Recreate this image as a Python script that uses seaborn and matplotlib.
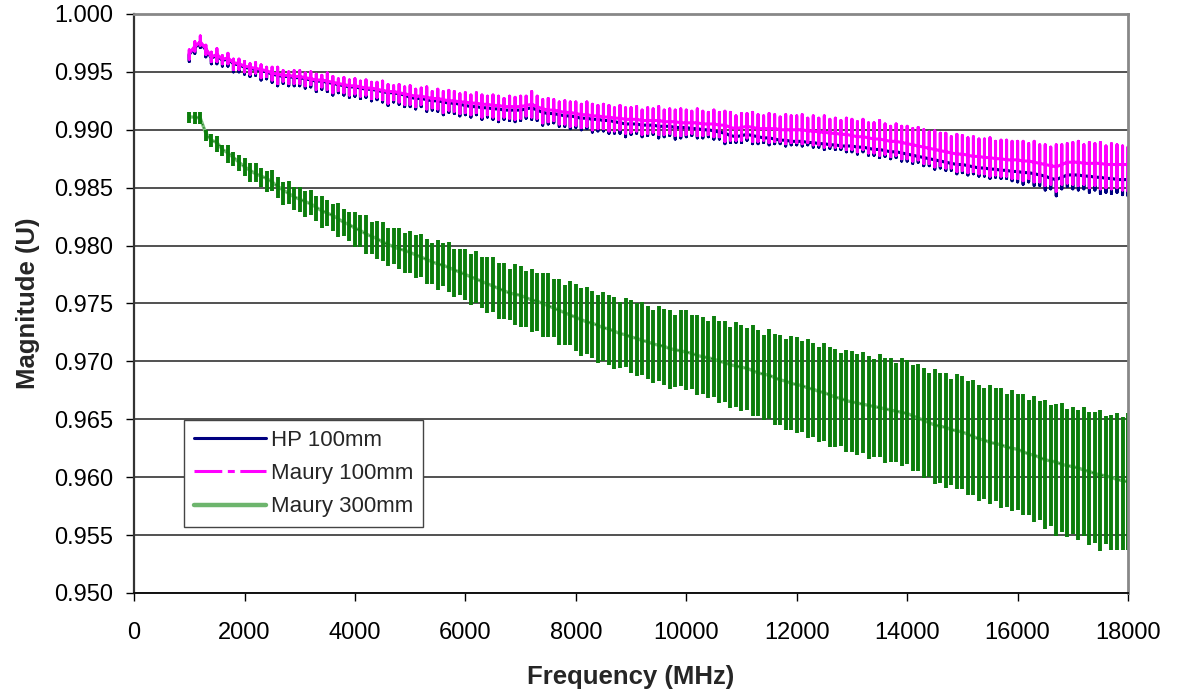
import matplotlib
matplotlib.use("Agg")
import matplotlib.pyplot as plt
from matplotlib.lines import Line2D
from matplotlib.ticker import FormatStrFormatter
import pandas as pd
import seaborn as sns

# sweep points (MHz), one spike per point
freq_mhz = [
    1000, 1100, 1200, 1300, 1400, 1500, 1600, 1700, 1800, 1900,
    2000, 2100, 2200, 2300, 2400, 2500, 2600, 2700, 2800, 2900,
    3000, 3100, 3200, 3300, 3400, 3500, 3600, 3700, 3800, 3900,
    4000, 4100, 4200, 4300, 4400, 4500, 4600, 4700, 4800, 4900,
    5000, 5100, 5200, 5300, 5400, 5500, 5600, 5700, 5800, 5900,
    6000, 6100, 6200, 6300, 6400, 6500, 6600, 6700, 6800, 6900,
    7000, 7100, 7200, 7300, 7400, 7500, 7600, 7700, 7800, 7900,
    8000, 8100, 8200, 8300, 8400, 8500, 8600, 8700, 8800, 8900,
    9000, 9100, 9200, 9300, 9400, 9500, 9600, 9700, 9800, 9900,
    10000, 10100, 10200, 10300, 10400, 10500, 10600, 10700, 10800, 10900,
    11000, 11100, 11200, 11300, 11400, 11500, 11600, 11700, 11800, 11900,
    12000, 12100, 12200, 12300, 12400, 12500, 12600, 12700, 12800, 12900,
    13000, 13100, 13200, 13300, 13400, 13500, 13600, 13700, 13800, 13900,
    14000, 14100, 14200, 14300, 14400, 14500, 14600, 14700, 14800, 14900,
    15000, 15100, 15200, 15300, 15400, 15500, 15600, 15700, 15800, 15900,
    16000, 16100, 16200, 16300, 16400, 16500, 16600, 16700, 16800, 16900,
    17000, 17100, 17200, 17300, 17400, 17500, 17600, 17700, 17800, 17900,
    18000,
]

# HP 100mm: base line (U) and spike depth below it (units of 0.0001 U)
hp_center = [
    0.9965, 0.9971, 0.9975, 0.9969, 0.9962, 0.9964, 0.9960, 0.9961, 0.9957, 0.9956,
    0.9954, 0.9953, 0.9952, 0.9951, 0.9950, 0.9948, 0.9947, 0.9946, 0.9946, 0.9945,
    0.9945, 0.9944, 0.9943, 0.9942, 0.9942, 0.9941, 0.9940, 0.9939, 0.9938, 0.9937,
    0.9937, 0.9936, 0.9935, 0.9935, 0.9934, 0.9933, 0.9932, 0.9932, 0.9931, 0.9930,
    0.9928, 0.9927, 0.9927, 0.9926, 0.9925, 0.9925, 0.9924, 0.9923, 0.9923, 0.9922,
    0.9921, 0.9920, 0.9920, 0.9919, 0.9919, 0.9918, 0.9918, 0.9917, 0.9917, 0.9917,
    0.9917, 0.9918, 0.9919, 0.9917, 0.9915, 0.9914, 0.9914, 0.9913, 0.9912, 0.9912,
    0.9911, 0.9910, 0.9910, 0.9909, 0.9909, 0.9908, 0.9908, 0.9907, 0.9906, 0.9905,
    0.9905, 0.9905, 0.9904, 0.9904, 0.9904, 0.9903, 0.9903, 0.9903, 0.9902, 0.9902,
    0.9902, 0.9901, 0.9901, 0.9900, 0.9900, 0.9899, 0.9898, 0.9897, 0.9895, 0.9894,
    0.9895, 0.9896, 0.9895, 0.9894, 0.9893, 0.9893, 0.9892, 0.9891, 0.9891, 0.9890,
    0.9890, 0.9890, 0.9889, 0.9889, 0.9888, 0.9888, 0.9887, 0.9887, 0.9886, 0.9886,
    0.9886, 0.9885, 0.9885, 0.9884, 0.9883, 0.9883, 0.9882, 0.9881, 0.9881, 0.9880,
    0.9879, 0.9878, 0.9877, 0.9876, 0.9875, 0.9874, 0.9873, 0.9872, 0.9871, 0.9870,
    0.9870, 0.9869, 0.9868, 0.9867, 0.9867, 0.9866, 0.9866, 0.9865, 0.9865, 0.9864,
    0.9864, 0.9863, 0.9863, 0.9862, 0.9861, 0.9860, 0.9858, 0.9857, 0.9859, 0.9861,
    0.9861, 0.9861, 0.9860, 0.9860, 0.9859, 0.9859, 0.9858, 0.9858, 0.9857, 0.9857,
    0.9857,
]
hp_down = [
    6, 5, 4, 6, 5, 7, 5, 6, 7, 6,
    6, 7, 5, 8, 6, 7, 9, 6, 8, 7,
    7, 8, 6, 9, 7, 8, 10, 7, 8, 9,
    8, 9, 7, 10, 8, 9, 11, 8, 9, 10,
    8, 9, 7, 10, 8, 9, 11, 8, 9, 10,
    8, 9, 7, 10, 8, 9, 11, 8, 9, 10,
    9, 8, 10, 9, 11, 9, 8, 10, 9, 11,
    9, 10, 9, 11, 10, 9, 11, 10, 9, 11,
    9, 8, 10, 9, 8, 10, 9, 8, 10, 9,
    8, 6, 8, 7, 6, 7, 6, 9, 6, 5,
    6, 5, 7, 6, 4, 6, 4, 3, 5, 3,
    3, 4, 2, 4, 3, 5, 3, 4, 3, 5,
    5, 6, 4, 6, 5, 7, 5, 6, 5, 7,
    6, 7, 5, 7, 6, 8, 6, 7, 6, 8,
    7, 8, 6, 7, 7, 8, 7, 7, 7, 8,
    9, 10, 8, 10, 9, 12, 9, 14, 10, 10,
    12, 13, 11, 14, 11, 14, 12, 13, 11, 13,
    14,
]

# Maury 100mm: base line (U), spike height above and depth below (0.0001 U)
maury100_center = [
    0.9966, 0.9972, 0.9976, 0.9970, 0.9963, 0.9965, 0.9961, 0.9962, 0.9958, 0.9957,
    0.9955, 0.9954, 0.9953, 0.9952, 0.9951, 0.9949, 0.9948, 0.9947, 0.9947, 0.9946,
    0.9946, 0.9945, 0.9944, 0.9943, 0.9943, 0.9942, 0.9941, 0.9940, 0.9939, 0.9938,
    0.9938, 0.9937, 0.9936, 0.9936, 0.9935, 0.9934, 0.9933, 0.9933, 0.9932, 0.9931,
    0.9930, 0.9929, 0.9929, 0.9928, 0.9927, 0.9927, 0.9926, 0.9925, 0.9925, 0.9924,
    0.9924, 0.9923, 0.9923, 0.9922, 0.9922, 0.9921, 0.9921, 0.9920, 0.9920, 0.9920,
    0.9920, 0.9921, 0.9922, 0.9920, 0.9918, 0.9917, 0.9917, 0.9916, 0.9915, 0.9915,
    0.9914, 0.9913, 0.9913, 0.9912, 0.9912, 0.9911, 0.9911, 0.9910, 0.9910, 0.9909,
    0.9909, 0.9909, 0.9908, 0.9908, 0.9908, 0.9908, 0.9907, 0.9907, 0.9907, 0.9906,
    0.9906, 0.9906, 0.9906, 0.9905, 0.9905, 0.9905, 0.9904, 0.9904, 0.9902, 0.9901,
    0.9902, 0.9903, 0.9902, 0.9901, 0.9901, 0.9901, 0.9901, 0.9900, 0.9900, 0.9900,
    0.9900, 0.9900, 0.9899, 0.9899, 0.9898, 0.9898, 0.9897, 0.9897, 0.9896, 0.9896,
    0.9895, 0.9894, 0.9894, 0.9893, 0.9892, 0.9892, 0.9891, 0.9890, 0.9890, 0.9889,
    0.9888, 0.9887, 0.9886, 0.9885, 0.9884, 0.9883, 0.9882, 0.9881, 0.9880, 0.9879,
    0.9879, 0.9878, 0.9877, 0.9877, 0.9876, 0.9876, 0.9875, 0.9875, 0.9874, 0.9874,
    0.9874, 0.9873, 0.9873, 0.9872, 0.9871, 0.9870, 0.9869, 0.9868, 0.9870, 0.9872,
    0.9872, 0.9872, 0.9871, 0.9871, 0.9871, 0.9871, 0.9870, 0.9870, 0.9870, 0.9870,
    0.9870,
]
maury100_up = [
    3, 4, 5, 3, 4, 5, 3, 4, 3, 4,
    4, 3, 5, 4, 3, 5, 6, 4, 3, 5,
    5, 4, 6, 5, 4, 7, 5, 4, 6, 5,
    6, 5, 7, 5, 6, 8, 6, 5, 7, 6,
    8, 6, 7, 9, 6, 8, 7, 9, 8, 7,
    8, 7, 9, 8, 7, 9, 8, 7, 9, 8,
    9, 8, 11, 9, 8, 10, 9, 8, 10, 9,
    10, 9, 11, 10, 9, 11, 10, 9, 11, 10,
    10, 11, 9, 11, 10, 12, 10, 11, 10, 12,
    11, 10, 12, 11, 10, 12, 11, 12, 13, 11,
    12, 11, 13, 12, 11, 13, 12, 11, 13, 12,
    12, 13, 11, 13, 12, 14, 12, 13, 12, 14,
    14, 13, 15, 13, 14, 16, 14, 13, 15, 14,
    15, 14, 16, 15, 14, 16, 15, 16, 14, 17,
    16, 15, 17, 15, 16, 17, 15, 16, 17, 16,
    16, 17, 15, 18, 16, 17, 16, 19, 17, 16,
    17, 18, 16, 18, 17, 18, 16, 18, 17, 16,
    15,
]
maury100_down = [
    5, 4, 3, 5, 4, 6, 4, 5, 6, 5,
    5, 6, 4, 7, 5, 6, 8, 5, 7, 6,
    6, 7, 5, 8, 6, 7, 9, 6, 7, 8,
    7, 8, 6, 9, 7, 8, 10, 7, 8, 9,
    8, 9, 7, 10, 8, 9, 11, 8, 9, 10,
    9, 10, 8, 11, 9, 10, 12, 9, 10, 11,
    10, 9, 11, 10, 12, 10, 9, 11, 10, 12,
    10, 11, 10, 12, 11, 10, 12, 11, 10, 12,
    11, 10, 12, 11, 10, 12, 11, 10, 12, 11,
    10, 9, 11, 10, 9, 11, 10, 14, 11, 10,
    11, 10, 12, 11, 10, 12, 11, 10, 12, 11,
    11, 12, 10, 12, 11, 13, 11, 12, 11, 13,
    12, 13, 11, 13, 12, 14, 12, 13, 12, 14,
    13, 14, 12, 14, 13, 15, 13, 14, 13, 15,
    14, 15, 13, 15, 14, 16, 14, 15, 14, 16,
    16, 17, 15, 17, 16, 18, 16, 21, 17, 18,
    19, 20, 18, 21, 19, 22, 20, 21, 20, 22,
    23,
]

# Maury 300mm: base line (U), spike height above and depth below (0.0001 U)
maury300_center = [
    0.9911, 0.9911, 0.9910, 0.9897, 0.9891, 0.9889, 0.9883, 0.9880, 0.9876, 0.9872,
    0.9868, 0.9865, 0.9862, 0.9860, 0.9858, 0.9855, 0.9851, 0.9848, 0.9845, 0.9842,
    0.9840, 0.9838, 0.9836, 0.9833, 0.9830, 0.9828, 0.9826, 0.9823, 0.9820, 0.9818,
    0.9815, 0.9813, 0.9810, 0.9808, 0.9806, 0.9803, 0.9801, 0.9799, 0.9797, 0.9796,
    0.9794, 0.9792, 0.9790, 0.9788, 0.9786, 0.9784, 0.9783, 0.9781, 0.9779, 0.9777,
    0.9775, 0.9773, 0.9771, 0.9769, 0.9767, 0.9765, 0.9763, 0.9761, 0.9759, 0.9758,
    0.9757, 0.9755, 0.9753, 0.9752, 0.9750, 0.9748, 0.9746, 0.9744, 0.9742, 0.9740,
    0.9738, 0.9736, 0.9734, 0.9733, 0.9731, 0.9729, 0.9728, 0.9726, 0.9724, 0.9723,
    0.9721, 0.9720, 0.9718, 0.9717, 0.9715, 0.9714, 0.9713, 0.9711, 0.9710, 0.9709,
    0.9708, 0.9707, 0.9705, 0.9704, 0.9703, 0.9702, 0.9700, 0.9699, 0.9697, 0.9696,
    0.9695, 0.9694, 0.9692, 0.9690, 0.9689, 0.9688, 0.9686, 0.9684, 0.9683, 0.9681,
    0.9680, 0.9679, 0.9677, 0.9676, 0.9674, 0.9673, 0.9671, 0.9669, 0.9668, 0.9666,
    0.9665, 0.9664, 0.9663, 0.9662, 0.9661, 0.9660, 0.9659, 0.9658, 0.9657, 0.9656,
    0.9655, 0.9653, 0.9651, 0.9649, 0.9647, 0.9645, 0.9644, 0.9643, 0.9641, 0.9640,
    0.9639, 0.9637, 0.9635, 0.9633, 0.9632, 0.9630, 0.9629, 0.9628, 0.9626, 0.9625,
    0.9624, 0.9622, 0.9620, 0.9619, 0.9617, 0.9615, 0.9614, 0.9613, 0.9611, 0.9610,
    0.9609, 0.9608, 0.9606, 0.9605, 0.9603, 0.9602, 0.9601, 0.9600, 0.9598, 0.9597,
    0.9596,
]
maury300_up = [
    4, 4, 5, 3, 5, 6, 4, 7, 5, 6,
    8, 6, 9, 7, 6, 10, 8, 7, 11, 9,
    11, 9, 12, 10, 13, 11, 10, 14, 12, 11,
    14, 13, 16, 12, 15, 17, 14, 16, 18, 15,
    19, 17, 20, 18, 16, 21, 19, 22, 18, 20,
    22, 20, 24, 21, 23, 25, 22, 24, 21, 26,
    25, 23, 27, 24, 26, 28, 25, 27, 24, 29,
    29, 27, 30, 28, 26, 31, 29, 30, 27, 32,
    32, 30, 33, 31, 29, 34, 32, 33, 30, 35,
    36, 33, 35, 34, 32, 37, 35, 36, 33, 38,
    36, 35, 39, 37, 34, 40, 38, 39, 36, 41,
    41, 39, 42, 40, 38, 43, 41, 42, 39, 44,
    44, 42, 45, 43, 41, 46, 44, 45, 42, 47,
    46, 44, 47, 45, 43, 48, 46, 47, 44, 49,
    48, 46, 49, 47, 45, 50, 48, 49, 46, 50,
    48, 50, 47, 51, 49, 52, 48, 50, 53, 49,
    52, 50, 55, 51, 53, 56, 52, 54, 57, 55,
    59,
]
maury300_down = [
    5, 6, 5, 7, 6, 8, 6, 9, 7, 8,
    8, 10, 7, 9, 12, 8, 10, 13, 9, 11,
    11, 13, 10, 12, 15, 11, 13, 16, 12, 14,
    16, 14, 17, 15, 18, 16, 19, 15, 17, 20,
    18, 20, 17, 21, 19, 22, 18, 21, 23, 20,
    22, 24, 21, 23, 25, 22, 26, 24, 23, 27,
    27, 25, 28, 26, 29, 27, 25, 30, 28, 26,
    29, 31, 28, 30, 32, 29, 31, 33, 30, 28,
    31, 33, 30, 32, 34, 31, 33, 35, 32, 30,
    33, 31, 34, 32, 35, 33, 36, 34, 37, 35,
    38, 36, 39, 37, 40, 38, 41, 39, 42, 40,
    42, 40, 43, 41, 44, 42, 45, 43, 41, 44,
    43, 45, 42, 46, 44, 43, 47, 45, 44, 46,
    44, 48, 46, 50, 47, 51, 49, 52, 48, 50,
    49, 52, 50, 54, 51, 53, 50, 55, 52, 54,
    52, 55, 53, 58, 54, 60, 56, 64, 58, 62,
    58, 62, 57, 64, 60, 66, 59, 63, 61, 60,
    59,
]

STEP = 1e-4  # spike lists are in 0.0001 U


def spike_frame(freqs, centers, ups, downs):
    # each sweep point becomes base -> top -> bottom -> base, like the trace
    rows = []
    for i, (f, c) in enumerate(zip(freqs, centers)):
        u = ups[i] if ups is not None else 0
        d = downs[i]
        for y in (c, c + u * STEP, c - d * STEP, c):
            rows.append((f, y))
    return pd.DataFrame(rows, columns=['Frequency', 'Magnitude'])


sns.set_style('white')
plt.rcParams['font.family'] = ['Liberation Sans', 'DejaVu Sans']
plt.rcParams['lines.scale_dashes'] = False

fig = plt.figure(figsize=(11.78, 6.95), dpi=100)
ax = fig.add_axes([0.1138, 0.1468, 0.8438, 0.8331])

hp = spike_frame(freq_mhz, hp_center, None, hp_down)
m100 = spike_frame(freq_mhz, maury100_center, maury100_up, maury100_down)
m300 = pd.DataFrame({'Frequency': freq_mhz, 'Magnitude': maury300_center})

sns.lineplot(data=hp, x='Frequency', y='Magnitude', sort=False, estimator=None,
             color='#000080', lw=2.2, ax=ax)
sns.lineplot(data=m100, x='Frequency', y='Magnitude', sort=False, estimator=None,
             color='#FF00FF', lw=2.2, ax=ax)

# Maury 300mm: textured base line plus solid spikes
sns.lineplot(data=m300, x='Frequency', y='Magnitude', sort=False, estimator=None,
             color='#7CC07C', lw=2.4, ax=ax)
sns.lineplot(data=m300, x='Frequency', y='Magnitude', sort=False, estimator=None,
             color='#1E7A1E', lw=1.0, dashes=(1, 1.5), ax=ax)
tops = [c + u * STEP for c, u in zip(maury300_center, maury300_up)]
bottoms = [c - d * STEP for c, d in zip(maury300_center, maury300_down)]
ax.vlines(freq_mhz, bottoms, tops, color='#0B7D0B', lw=2.8)

ax.set_xlim(0, 18000)
ax.set_ylim(0.950, 1.000)
ax.set_xticks(range(0, 18001, 2000))
ax.set_yticks([0.950, 0.955, 0.960, 0.965, 0.970, 0.975, 0.980, 0.985, 0.990, 0.995, 1.000])
ax.yaxis.set_major_formatter(FormatStrFormatter('%.3f'))
ax.yaxis.grid(True, color='#222222', lw=1.1)
ax.xaxis.grid(False)
ax.set_axisbelow(True)

ax.tick_params(axis='both', direction='out', length=6, width=1, color='black',
               labelsize=17, labelcolor='black')
ax.tick_params(axis='x', pad=15)
ax.tick_params(axis='y', pad=9)
ax.tick_params(left=True, bottom=True)

for side in ('top', 'right'):
    ax.spines[side].set_color('#888888')
    ax.spines[side].set_linewidth(2)
ax.spines['left'].set_color('#333333')
ax.spines['left'].set_linewidth(1.6)
ax.spines['bottom'].set_color('#111111')
ax.spines['bottom'].set_linewidth(1.4)

ax.set_xlabel('Frequency (MHz)', fontsize=18.5, fontweight='bold', labelpad=15)
ax.set_ylabel('Magnitude (U)', fontsize=18.5, fontweight='bold', labelpad=10)

handles = [
    Line2D([], [], color='#000080', lw=2.2),
    Line2D([], [], color='#FF00FF', lw=2.2, dashes=(20, 4, 5, 4)),
    Line2D([], [], color='#6DB56D', lw=3.2),
]
leg = ax.legend(handles, ['HP 100mm', 'Maury 100mm', 'Maury 300mm'],
                loc='upper left', bbox_to_anchor=(0.0503, 0.2988), borderaxespad=0,
                fontsize=16, handlelength=3.25, handletextpad=0.2, labelspacing=0.55,
                borderpad=0.45, fancybox=False, framealpha=1, edgecolor='#444444')
leg.get_frame().set_linewidth(1.0)

fig.savefig('out.png', dpi=100)
